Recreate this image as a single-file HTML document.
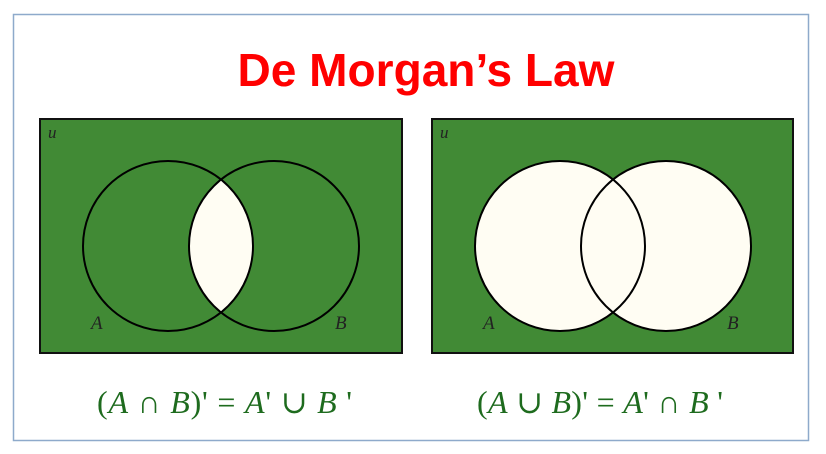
<!DOCTYPE html>
<html><head><meta charset="utf-8"><style>
body{margin:0;background:#fff;width:826px;height:454px;overflow:hidden}
svg{display:block}
</style></head><body>
<svg width="826" height="454">
<rect x="13.5" y="14.5" width="795" height="426" fill="#fff" stroke="#8eaacb" stroke-width="1.5"/>
<text x="426" y="86" text-anchor="middle" font-family="Liberation Sans, sans-serif" font-weight="bold" font-size="46" fill="#f00" textLength="377" lengthAdjust="spacingAndGlyphs">De Morgan’s Law</text>
<defs>
<clipPath id="ca"><circle cx="168" cy="246" r="85"/></clipPath>
</defs>
<g>
<rect x="40" y="119" width="362" height="234" fill="#418a35" stroke="#111" stroke-width="2"/>
<circle cx="274" cy="246" r="85" fill="#fffdf3" clip-path="url(#ca)"/>
<circle cx="168" cy="246" r="85" fill="none" stroke="#000" stroke-width="2"/>
<circle cx="274" cy="246" r="85" fill="none" stroke="#000" stroke-width="2"/>
<text x="48" y="138" font-family="Liberation Serif, serif" font-style="italic" font-size="17" fill="#222">u</text>
<text x="91" y="329" font-family="Liberation Serif, serif" font-style="italic" font-size="19" fill="#222">A</text>
<text x="335" y="329" font-family="Liberation Serif, serif" font-style="italic" font-size="19" fill="#222">B</text>
</g>
<g>
<rect x="432" y="119" width="361" height="234" fill="#418a35" stroke="#111" stroke-width="2"/>
<circle cx="560" cy="246" r="85" fill="#fffdf3"/>
<circle cx="666" cy="246" r="85" fill="#fffdf3"/>
<circle cx="560" cy="246" r="85" fill="none" stroke="#000" stroke-width="2"/>
<circle cx="666" cy="246" r="85" fill="none" stroke="#000" stroke-width="2"/>
<text x="440" y="138" font-family="Liberation Serif, serif" font-style="italic" font-size="17" fill="#222">u</text>
<text x="483" y="329" font-family="Liberation Serif, serif" font-style="italic" font-size="19" fill="#222">A</text>
<text x="727" y="329" font-family="Liberation Serif, serif" font-style="italic" font-size="19" fill="#222">B</text>
</g>
<text x="97" y="413" font-family="Liberation Serif, DejaVu Serif, serif" font-size="32" fill="#1e6b1e" textLength="255" lengthAdjust="spacing">(<tspan font-style="italic">A</tspan> ∩ <tspan font-style="italic">B</tspan>)' = <tspan font-style="italic">A</tspan>' ∪ <tspan font-style="italic">B</tspan> '</text>
<text x="477" y="413" font-family="Liberation Serif, DejaVu Serif, serif" font-size="32" fill="#1e6b1e" textLength="246" lengthAdjust="spacing">(<tspan font-style="italic">A</tspan> ∪ <tspan font-style="italic">B</tspan>)' = <tspan font-style="italic">A</tspan>' ∩ <tspan font-style="italic">B</tspan> '</text>
</svg>
</body></html>
